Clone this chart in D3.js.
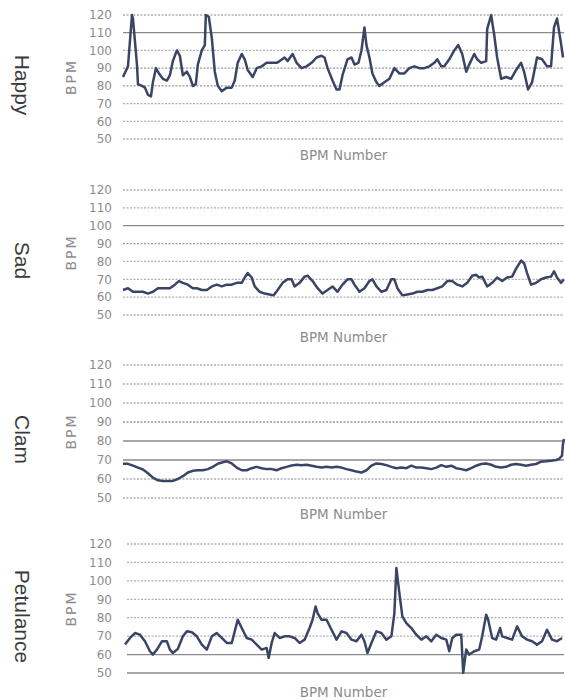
<!DOCTYPE html>
<html><head><meta charset="utf-8">
<script src="https://cdn.jsdelivr.net/npm/d3@7/dist/d3.min.js"></script>
<style>body{margin:0;background:#fff}</style>
</head><body>
<svg id="c" width="565" height="700"></svg>
<script>
// ---------- data ----------
const yTicks = [50, 60, 70, 80, 90, 100, 110, 120];
const panelNames = ["Happy", "Sad", "Clam", "Petulance"];
const xLabel = "BPM Number";
const yLabel = "BPM";

// [BPM number, BPM]
const happy = [[0,85],[5,91],[9,120],[10,118],[12,105],[14,92],[15,81],[19,80],[22,79],[25,75],[28,74],[30,82],[33,90],[36,87],[40,84],[44,83],[47,86],[50,94],[54,100],[57,97],[60,86],[64,88],[67,85],[70,80],[73,81],[75,92],[79,100],[82,103],[83,120],[86,119],[89,107],[92,88],[95,80],[99,77],[104,79],[109,79],[112,83],[115,93],[119,98],[122,95],[125,89],[130,85],[134,90],[139,91],[144,93],[149,93],[154,93],[157,94],[162,96],[165,94],[170,98],[174,93],[179,90],[184,91],[189,93],[194,96],[199,97],[202,96],[205,90],[210,83],[214,78],[217,78],[220,86],[225,95],[229,96],[232,92],[236,93],[239,100],[242,113],[244,103],[247,96],[250,87],[254,82],[257,80],[262,82],[267,84],[272,90],[277,87],[282,87],[287,90],[292,91],[297,90],[302,90],[307,91],[312,93],[315,95],[319,91],[322,91],[327,95],[332,100],[336,103],[340,98],[344,88],[347,92],[352,98],[355,95],[359,93],[364,94],[365,112],[369,120],[372,109],[375,96],[379,84],[384,85],[389,84],[394,89],[399,93],[402,88],[406,78],[410,82],[415,96],[420,95],[425,91],[429,91],[432,113],[435,118],[439,104],[441,96]];

const sad = [[0,64],[5,65],[10,63],[15,63],[20,63],[25,62],[30,63],[35,65],[40,65],[47,65],[52,67],[56,69],[60,68],[65,67],[70,65],[74,65],[79,64],[84,64],[89,66],[94,67],[99,66],[104,67],[109,67],[114,68],[119,68],[122,71],[125,73.5],[129,71],[132,66],[137,63],[142,62],[147,61.5],[151,61],[155,64],[160,68],[165,70],[169,70],[172,66],[177,68],[182,71.5],[185,72],[190,69],[195,65],[200,62],[205,64],[210,66],[215,63],[220,67],[225,70],[229,70],[232,67],[237,63],[242,65],[247,69],[250,70],[254,66],[259,63],[264,64],[269,70],[272,70],[275,65],[280,61],[285,61.5],[290,62],[295,63],[300,63],[305,64],[310,64],[315,65],[320,66],[325,69],[330,69],[335,67],[340,66],[345,68],[350,72],[354,72.5],[357,71],[360,71.5],[365,66],[370,68],[375,71],[380,69],[385,71],[390,71.5],[394,76],[399,80.5],[402,79],[405,73.5],[409,67],[414,68],[419,70],[424,71],[429,71.5],[432,74.5],[435,71],[439,68],[442,70]];

const clam = [[0,68],[5,68],[10,67],[15,66],[20,65],[25,63],[30,60.7],[35,59.3],[40,59],[45,59],[50,59],[55,60],[60,61.5],[65,63.4],[70,64.3],[75,64.6],[80,64.6],[85,65.2],[90,66.4],[95,68],[100,68.8],[104,69.3],[109,68.2],[114,66],[119,64.6],[124,64.6],[129,65.7],[134,66.4],[139,65.7],[144,65.2],[149,65.2],[154,64.6],[159,65.7],[164,66.4],[169,67.1],[174,67.5],[179,67.3],[184,67.5],[189,67],[194,66.4],[199,66],[204,66.4],[209,66],[214,66.4],[219,66],[224,65.2],[229,64.6],[234,63.9],[239,63.4],[244,64.6],[249,67],[254,68.2],[259,67.9],[264,67.3],[269,66.4],[274,65.7],[279,66],[284,65.7],[289,67],[294,66],[299,66],[304,65.7],[309,65.2],[314,66],[319,67.3],[324,66.4],[329,67],[334,65.7],[339,65.2],[344,64.6],[349,65.7],[354,67],[359,67.9],[364,68.2],[369,67.5],[374,66.4],[379,66],[384,66.4],[389,67.5],[394,67.9],[399,67.5],[404,67],[409,67.5],[414,67.9],[419,69.1],[424,69.3],[429,69.6],[434,70],[437,70.5],[440,72.3],[441,78.6],[442,81]];

const petulance = [[2,65.4],[7,69],[12,71.7],[17,70.8],[22,67.2],[27,61.8],[30,60],[34,62.7],[39,67.2],[44,67.2],[47,62.7],[50,60.9],[55,63.1],[60,69.9],[64,72.6],[69,72.1],[74,69.9],[79,65.4],[84,62.7],[89,69.9],[94,71.7],[99,69],[104,66.3],[109,66.3],[112,72.6],[115,78.9],[119,74.4],[124,69],[129,68.1],[134,65.4],[139,62.7],[144,63.6],[146,58.2],[149,66.3],[152,71.7],[157,69],[162,69.9],[167,69.9],[172,69],[177,66.3],[182,68.1],[187,74.4],[190,78.9],[193,86.1],[195,82.5],[199,78.9],[204,78.9],[209,73.5],[214,68.1],[219,72.6],[224,71.7],[229,68.1],[234,67.2],[239,70.8],[242,67.2],[245,60.9],[249,66.3],[254,72.6],[259,71.7],[264,68.1],[269,69.9],[272,82.5],[274,107],[277,93.3],[280,80.7],[284,77.1],[289,74.4],[294,70.8],[299,68.1],[304,69.9],[309,67.2],[314,70.8],[319,69],[324,68.1],[327,61.8],[330,69],[334,70.8],[339,70.8],[341,50.1],[344,62.7],[347,60],[352,61.8],[357,62.7],[360,69.9],[364,81.6],[366,78.9],[370,69],[374,68.1],[378,74.4],[380,69.9],[385,69],[390,68.1],[395,75.3],[400,69.9],[405,68.1],[410,67.2],[415,65.4],[420,67.2],[425,73.5],[430,68.1],[435,67.2],[440,69]];

const series = [happy, sad, clam, petulance];

// ---------- layout / style ----------
const layout = [
  {top: 15,  bottom: 139, gridLeft: 123, xLabY: 160, solid: [110], dark: [90, 80]},
  {top: 190, bottom: 315, gridLeft: 123, xLabY: 342, solid: [100], dark: [90]},
  {top: 365, bottom: 498, gridLeft: 123, xLabY: 519, solid: [80, 70], dark: [90]},
  {top: 544, bottom: 673, gridLeft: 127, xLabY: 697, solid: [60, 50], dark: []}
];
const plotLeft = 123, plotRight = 564;

const svg = d3.select("#c");
const x = d3.scaleLinear().domain([0, 442]).range([plotLeft, plotRight]);

layout.forEach((L, i) => {
  const g = svg.append("g");
  const y = d3.scaleLinear().domain([50, 120]).range([L.bottom, L.top]);

  // gridlines
  g.selectAll("line.grid").data(yTicks).enter().append("line")
    .attr("x1", L.gridLeft).attr("x2", plotRight)
    .attr("y1", d => y(d)).attr("y2", d => y(d))
    .attr("stroke", d => L.solid.includes(d) ? "#8a8a8a" : (L.dark.includes(d) ? "#999" : "#b0b0b0"))
    .attr("stroke-width", d => L.solid.includes(d) ? 1.3 : 1.3)
    .attr("stroke-dasharray", d => L.solid.includes(d) ? null : "2,1.5");

  // y axis tick labels
  const ax = d3.axisLeft(y).tickValues(yTicks).tickSize(0).tickPadding(0);
  const axG = g.append("g").attr("transform", "translate(112,0)").call(ax);
  axG.select(".domain").remove();
  axG.selectAll("text").attr("fill", "#8c8c8c")
    .style("font-family", "DejaVu Sans, sans-serif").style("font-size", "12px");

  // line
  const line = d3.line().x(d => x(d[0])).y(d => y(d[1]));
  g.append("path").datum(series[i])
    .attr("d", line).attr("fill", "none")
    .attr("stroke", "#3a4566").attr("stroke-width", 2.5)
    .attr("stroke-linejoin", "round");

  // y axis title
  const cy = (L.top + L.bottom) / 2;
  g.append("text").text(yLabel)
    .attr("transform", `translate(76,${cy}) rotate(-90)`)
    .attr("text-anchor", "middle")
    .attr("fill", "#8c8c8c")
    .style("font-family", "DejaVu Sans, sans-serif").style("font-size", "14px")
    .style("letter-spacing", "2px");

  // x axis title
  g.append("text").text(xLabel)
    .attr("x", (plotLeft + plotRight) / 2).attr("y", L.xLabY)
    .attr("text-anchor", "middle").attr("fill", "#8c8c8c")
    .style("font-family", "DejaVu Sans, sans-serif").style("font-size", "13.5px");

  // panel name
  g.append("text").text(panelNames[i])
    .attr("transform", `translate(22,${cy + 8}) rotate(90)`)
    .attr("text-anchor", "middle").attr("dominant-baseline", "central")
    .attr("fill", "#3a3a3a")
    .style("font-family", "Liberation Sans, Arial, sans-serif").style("font-size", "21px");
});
</script>
</body></html>
